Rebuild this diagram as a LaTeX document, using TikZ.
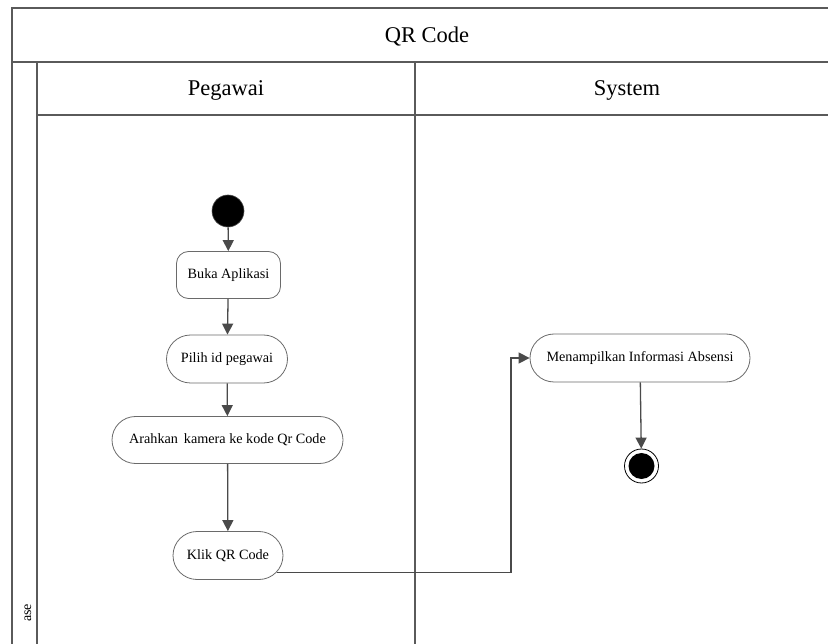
\documentclass[tikz,border=0pt]{standalone}
\usepackage{fontspec}
\setmainfont{Liberation Serif}
\usetikzlibrary{arrows.meta,shapes.misc,calc}
\definecolor{lanegray}{HTML}{5A5A5A}
\definecolor{flowgray}{HTML}{4A4A4A}
\definecolor{boxgray}{HTML}{6A6A6A}
\begin{document}
\begin{tikzpicture}[x=1pt,y=-1pt,
  lane/.style={draw=lanegray,line width=1.3pt},
  header/.style={font=\fontsize{22.5}{26}\selectfont},
  action/.style={rounded rectangle,draw=boxgray,line width=0.8pt,fill=white,
    font=\fontsize{14.2}{17}\selectfont,inner sep=0pt},
  actionbox/.style={rectangle,rounded corners=12pt,draw=boxgray,line width=0.8pt,
    fill=white,font=\fontsize{14.2}{17}\selectfont,inner sep=0pt},
  flow/.style={draw=flowgray,line width=1.3pt,-{Triangle[length=11pt,width=11pt]}},
  initial/.style={circle,fill=black,draw=flowgray,line width=0.6pt,minimum size=32pt,inner sep=0pt},
]
\useasboundingbox (0,0) rectangle (828,644);
\clip (0,0) rectangle (828,644);

% swimlane frame
\draw[lane] (12,700) -- (12,8) -- (840,8);
\draw[lane] (12,62) -- (840,62);
\draw[lane] (37,62) -- (37,700);
\draw[lane] (37,115) -- (840,115);
\draw[lane] (415,62) -- (415,700);

\node[header] (title) at (427,37) {QR Code};
\node[header] (lanea) at (226,90) {Pegawai};
\node[header] (laneb) at (627,90) {System};
\node[rotate=90,font=\fontsize{14}{16}\selectfont] (pool) at (28,613) {ase};

% activities
\node[initial] (start) at (228,211) {};
\node[actionbox,minimum width=104pt,minimum height=47pt] (buka) at (228.5,275) {Buka Aplikasi};
\node[action,minimum width=121pt,minimum height=48pt] (pilih) at (227,359) {Pilih id pegawai};
\node[action,minimum width=231pt,minimum height=47pt] (arah) at (227.5,440) {Arahkan\, kamera ke kode Qr Code};
\node[action,minimum width=110pt,minimum height=48pt] (klik) at (228,555.5) {Klik QR Code};
\node[action,minimum width=220pt,minimum height=48pt] (info) at (640,358) {Menampilkan Informasi Absensi};
\node[circle,draw=black,line width=0.8pt,fill=white,minimum size=34pt,inner sep=0pt] (final) at (641.5,466) {};
\node[circle,fill=black,minimum size=26pt,inner sep=0pt] (finaldot) at (final.center) {};

% control flow
\coordinate (bend) at (511,0);
\draw[flow] (start) -- (buka);
\draw[flow] (buka) -- (pilih);
\draw[flow] (pilih) -- (arah);
\draw[flow] (arah) -- (klik);
\draw[flow] (klik.-19) -- (klik.-19 -| bend) |- (info.west);
\draw[flow] (info) -- (final);
\end{tikzpicture}
\end{document}
